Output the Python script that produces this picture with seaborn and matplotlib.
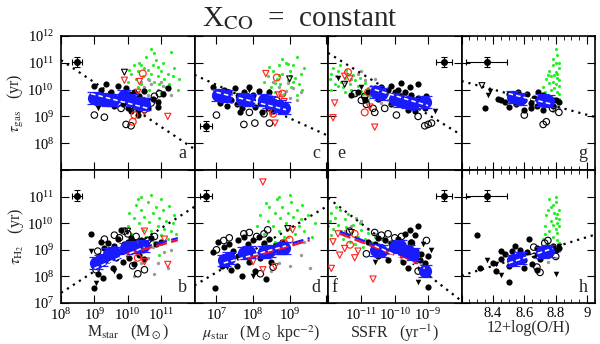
import numpy as np
import pandas as pd
import matplotlib
matplotlib.use("Agg")
import matplotlib.pyplot as plt
import seaborn as sns
from matplotlib.ticker import FixedLocator, MultipleLocator, NullFormatter, LogLocator, FixedFormatter

sns.set_style("ticks")
plt.rcParams["font.family"] = ["Liberation Serif", "DejaVu Serif"]
plt.rcParams["mathtext.fontset"] = "stix"

# ---------------- data (log10 values, except O/H) ----------------
# Panel a: log Mstar vs log tau_gas
A_GREEN = [(10.0,10.3),(10.1,10.6),(10.2,10.9),(10.25,10.4),(10.3,10.7),(10.35,11.0),(10.4,10.2),(10.45,10.5),
           (10.5,10.8),(10.55,11.2),(10.6,10.4),(10.65,10.0),(10.7,10.6),(10.75,10.9),(10.8,10.3),(10.85,11.1),
           (10.9,10.5),(10.95,10.2),(11.0,10.7),(11.05,11.0),(11.1,10.4),(11.15,10.1),(11.2,10.6),(11.3,11.4),
           (11.25,10.2),(11.4,10.8),(11.5,10.0),(10.3,10.1),(10.6,10.75),(10.8,11.35),(10.15,9.95),(11.0,9.9),
           (10.4,10.9),(10.9,10.85),(11.35,10.5),(10.7,11.5),(10.05,10.75),(11.55,10.4)]
A_GRAY = [(10.3,9.9),(10.5,10.1),(10.6,9.8),(10.7,10.2),(10.8,9.7),(10.9,10.0),(11.0,10.3),(11.1,9.9),
          (11.2,10.1),(10.4,10.3),(10.95,9.6),(11.3,9.8),(10.65,10.35),(11.05,10.15),(10.2,9.7)]
A_BLACK = [(9.0,10.15),(9.2,10.0),(9.35,10.2),(9.5,9.9),(9.7,10.15),(9.8,9.8),(9.95,10.05),(10.05,9.85),
           (10.2,9.9),(10.35,9.75),(10.5,9.95),(10.75,9.65),(10.9,9.55),(11.05,9.85),(11.2,10.05),(9.1,9.45),
           (9.3,9.5),(9.6,9.4),(9.85,9.45),(10.0,9.3),(10.15,9.5),(10.3,9.25),(10.45,9.4),(10.6,9.3),
           (10.9,9.35),(8.95,9.7),(9.4,9.75),(10.1,9.2),(10.3,9.05),(10.45,9.6)]
A_OPEN = [(9.0,9.05),(9.3,8.97),(9.95,8.7),(10.1,8.65),(10.8,9.75),(10.95,9.85),(10.7,9.5),(10.5,9.25),(9.8,9.3)]
A_TRI = [(9.1,9.3),(9.5,9.55),(10.05,9.65),(10.6,9.6)]
A_TRI_OPEN = [(9.9,10.65)]
A_RED_TRI = [(9.9,10.35),(10.3,9.9),(11.2,9.0),(10.2,9.5),(10.5,9.15),(10.35,10.3)]
A_RED_CIRC = [(10.45,10.6),(10.2,9.05),(10.15,8.8)]
A_BLUE = [(9.0,9.7),(9.2,9.65),(9.4,9.6),(9.55,9.62),(9.9,9.75),(10.1,9.6),(10.3,9.5),(10.5,9.45)]
A_WHITE = [(8.9,9.85),(10.6,9.3)]
A_FIT = [(8.0,11.1),(12.0,7.78)]
A_ERR = (8.48, 11.03, 0.15, 0.2)

# Panel b: log Mstar vs log tau_H2
B_GREEN = [(10.0,9.9),(10.05,10.4),(10.1,9.6),(10.2,10.2),(10.25,10.7),(10.3,9.4),(10.35,10.0),(10.4,10.5),
           (10.45,9.75),(10.5,10.25),(10.55,9.5),(10.6,10.8),(10.65,10.05),(10.7,9.7),(10.75,10.4),(10.8,9.3),
           (10.85,10.6),(10.9,9.9),(10.95,10.2),(11.0,9.55),(11.05,10.5),(11.1,9.8),(11.15,10.1),(11.2,9.4),
           (11.25,10.65),(11.3,9.7),(11.35,10.0),(11.45,9.6),(10.4,11.0),(10.7,11.05),(11.0,10.9),(10.15,9.2),
           (10.6,9.05),(10.95,8.8),(11.4,10.3),(10.3,10.9)]
B_GRAY = [(10.1,9.2),(10.3,8.9),(10.5,9.3),(10.6,8.7),(10.75,9.1),(10.9,8.5),(11.0,9.3),(11.1,8.9),
          (11.2,8.3),(10.8,8.1),(10.4,8.5),(11.3,9.0),(10.65,9.5),(10.2,8.0)]
B_BLACK = [(8.9,9.6),(9.2,9.3),(9.3,9.05),(9.4,9.25),(9.5,8.95),(9.6,9.15),(9.7,9.4),(9.8,9.75),(9.9,9.2),
           (10.0,9.3),(10.1,9.45),(10.25,9.15),(10.4,9.35),(10.55,9.25),(10.7,9.45),(10.85,9.2),(11.0,9.3),
           (9.0,8.4),(9.1,8.1),(9.25,7.95),(9.4,8.6),(9.55,8.3),(9.75,8.0),(9.0,7.55),(9.15,8.75),(9.65,8.7),
           (9.85,8.55),(10.05,8.7),(10.2,8.45),(10.35,8.8),(10.5,8.65)]
B_OPEN = [(9.05,8.25),(9.3,9.4),(9.6,9.55),(9.75,9.45),(9.9,9.7),(10.0,9.6),(10.15,8.4),(10.3,8.1),
          (10.5,8.25),(10.6,9.35),(10.8,9.5),(10.25,9.5),(9.1,8.95)]
B_TRI = [(8.9,8.95),(9.05,7.75),(9.6,8.2),(10.2,9.3),(9.95,8.85)]
B_TRI_OPEN = [(10.0,9.7)]
B_RED_TRI = [(10.5,9.7),(11.1,9.4),(11.2,8.45),(10.3,8.95),(10.5,8.55)]
B_RED_CIRC = [(10.45,9.0),(10.3,8.7)]
B_BLUE = [(9.05,8.5),(9.2,8.6),(9.45,8.85),(9.6,8.9),(9.95,9.05),(10.15,9.1),(10.45,9.15)]
B_WHITE = [(9.0,8.3),(10.5,9.1)]
B_FIT = [(8.0,7.38),(12.0,10.62)]
B_BLUE_DASH = [(9.95,8.92),(11.5,9.44)]
B_RED_DASH = [(9.95,8.84),(11.5,9.36)]
B_ERR = (8.48, 11.03, 0.15, 0.2)

# Panel c: log mu_star vs log tau_gas
C_GREEN = [(8.2,10.0),(8.3,10.3),(8.35,9.8),(8.4,10.5),(8.5,10.1),(8.55,10.7),(8.6,9.9),(8.65,10.4),
           (8.7,10.9),(8.75,10.2),(8.8,10.6),(8.85,9.85),(8.9,11.0),(8.95,10.35),(9.0,10.7),(9.05,10.1),
           (9.1,10.9),(9.15,10.45),(9.2,11.2),(9.25,10.2),(9.3,10.6),(9.35,10.0),(8.45,10.85),(8.7,10.55),
           (8.95,10.95),(9.1,10.3),(8.6,10.25),(9.4,10.8),(8.8,11.15),(8.5,9.75),(9.2,9.8),(9.0,10.5)]
C_GRAY = [(8.3,9.7),(8.45,10.0),(8.6,9.6),(8.7,10.1),(8.8,9.8),(8.9,9.95),(9.0,9.7),(9.1,10.05),
          (8.55,10.3),(9.2,9.6),(8.4,9.45),(8.95,10.25),(9.3,9.9),(8.75,9.5)]
C_BLACK = [(6.9,10.1),(7.05,9.85),(7.2,10.0),(7.35,9.9),(7.5,10.05),(7.6,9.75),(7.75,9.9),(7.9,10.1),
           (8.0,9.8),(8.15,9.95),(8.3,9.7),(8.45,9.9),(8.6,9.55),(7.1,9.5),(7.3,9.4),(7.55,9.45),(7.7,9.3),
           (7.85,9.5),(8.05,9.35),(8.2,9.5),(8.4,9.3),(8.55,9.2),(7.4,9.6),(7.95,9.6),(6.95,9.75),(8.7,9.25),
           (8.25,9.15),(7.65,9.15)]
C_OPEN = [(7.0,9.05),(7.75,8.7),(8.05,8.75),(8.45,8.75),(7.9,9.15),(8.65,9.6),(8.75,9.4),(8.3,9.1)]
C_TRI = [(7.9,10.0),(8.2,9.55)]
C_TRI_OPEN = [(9.0,10.4)]
C_RED_TRI = [(8.35,10.6),(8.7,9.8),(8.5,9.15),(8.6,8.75),(8.85,9.55)]
C_RED_CIRC = [(8.65,10.45),(8.8,9.85),(8.55,9.1)]
C_BLUE = [(7.05,9.8),(7.25,9.75),(7.7,9.65),(7.9,9.6),(8.3,9.62),(8.45,9.55),(8.7,9.4),(8.85,9.3)]
C_WHITE = [(7.0,9.9),(8.9,9.25)]
C_FIT = [(6.4,10.55),(10.05,8.28)]
C_ERR = (6.72, 8.64, 0.16, 0.2)

# Panel d: log mu_star vs log tau_H2
D_GREEN = [(8.1,9.9),(8.2,10.3),(8.3,9.6),(8.4,10.1),(8.45,10.6),(8.5,9.4),(8.55,9.9),(8.6,10.4),
           (8.65,10.9),(8.7,9.7),(8.75,10.2),(8.8,10.6),(8.85,9.5),(8.9,10.0),(8.95,10.4),(9.0,9.8),
           (9.05,10.8),(9.1,10.25),(9.15,9.6),(9.2,10.5),(9.25,9.9),(9.3,10.15),(9.4,9.7),(9.5,10.3),
           (9.6,9.5),(9.7,10.0),(8.7,11.0),(9.0,11.05),(8.35,10.75),(8.9,9.2),(9.35,10.7),(8.6,9.3)]
D_GRAY = [(8.2,9.1),(8.4,8.8),(8.6,9.2),(8.7,8.5),(8.85,9.0),(9.0,8.4),(9.1,9.2),(9.3,8.8),
          (8.5,8.2),(9.4,9.3),(8.95,9.5),(9.55,8.3)]
D_BLACK = [(6.9,8.9),(7.05,9.3),(7.2,9.1),(7.35,9.2),(7.45,8.95),(7.6,9.35),(7.75,9.5),(7.85,9.2),
           (8.0,9.35),(8.15,9.5),(8.3,9.25),(8.45,9.4),(8.6,9.15),(8.8,9.3),(6.95,7.55),(7.25,8.6),
           (7.4,8.25),(7.55,8.4),(7.7,8.0),(7.9,8.55),(8.05,8.2),(8.2,8.7),(8.35,7.9),(8.5,8.55),
           (7.6,8.75),(7.15,8.4),(8.0,8.8),(7.8,9.0)]
D_OPEN = [(7.2,9.35),(7.35,9.45),(7.75,9.6),(7.9,9.65),(8.1,9.5),(8.3,9.6),(8.55,8.35),(8.2,8.1),
          (7.0,9.0),(8.4,9.75)]
D_TRI = [(8.0,8.03),(7.3,8.35)]
D_TRI_OPEN = [(8.95,9.8)]
D_RED_TRI = [(8.27,11.55),(8.0,8.55),(8.27,8.25),(9.08,9.75),(8.6,8.37)]
D_RED_CIRC = [(9.0,9.38),(8.85,9.25)]
D_BLUE = [(7.2,8.6),(7.35,8.7),(7.75,8.88),(7.9,8.92),(8.3,8.92),(8.45,8.95),(8.75,9.05),(8.85,9.08)]
D_WHITE = [(7.2,8.5),(8.9,9.15)]
D_FIT = [(6.4,7.66),(10.05,10.66)]
D_BLUE_DASH = [(7.86,8.76),(9.55,9.44)]
D_RED_DASH = [(7.86,8.68),(9.55,9.36)]
D_ERR = (6.72, 11.03, 0.16, 0.2)

# Panel e: log SSFR vs log tau_gas
E_GREEN = [(-11.95,10.4),(-11.9,10.6),(-11.8,10.2),(-11.75,10.5),(-11.7,10.7),(-11.6,10.3),(-11.55,10.1),
           (-11.5,10.45),(-11.4,10.6),(-11.35,10.2),(-11.3,10.0),(-11.2,10.35),(-11.1,10.15),(-11.0,9.95),
           (-10.9,10.25),(-10.8,10.05),(-10.7,9.9),(-10.6,10.1),(-11.85,10.8),(-11.65,10.9),(-11.45,10.75),
           (-11.25,10.55),(-11.05,10.45),(-10.95,9.85),(-10.75,9.75),(-11.9,10.0),(-11.7,10.15),(-11.5,9.9),
           (-11.15,9.8),(-10.5,9.8)]
E_GRAY = [(-11.3,10.4),(-11.1,10.6),(-10.9,10.35),(-10.7,10.15),(-10.5,9.95),(-10.3,9.8),(-10.2,9.6),
          (-10.0,9.75),(-11.5,10.3),(-10.8,9.6),(-10.4,9.5),(-9.8,9.45),(-11.0,10.7),(-10.6,10.4)]
E_BLACK = [(-10.8,9.9),(-10.6,10.05),(-10.4,10.1),(-10.3,9.85),(-10.2,10.0),(-10.1,10.15),(-10.0,9.9),
           (-9.9,10.0),(-9.8,9.75),(-9.7,9.9),(-9.6,9.6),(-9.5,9.8),(-9.4,9.55),(-9.3,9.7),(-9.2,9.45),
           (-9.1,9.3),(-9.0,9.5),(-9.8,10.25),(-9.55,10.1),(-9.3,10.2),(-10.5,9.65),(-10.1,9.45),
           (-9.6,9.25),(-9.4,9.2),(-11.3,9.8),(-11.1,9.9),(-10.9,9.6),(-9.05,9.75)]
E_OPEN = [(-11.2,9.85),(-11.0,9.6),(-10.85,9.45),(-10.65,9.3),(-10.6,9.15),(-9.95,9.05),(-9.1,8.65),
          (-9.0,8.7),(-8.9,8.75),(-9.3,9.0),(-10.3,9.3),(-10.9,9.75)]
E_TRI = [(-11.7,10.45),(-11.0,10.1),(-8.8,9.2)]
E_TRI_OPEN = [(-11.5,10.2),(-10.9,9.6)]
E_RED_TRI = [(-11.5,10.5),(-11.35,10.4),(-11.8,9.5),(-11.85,8.95),(-10.6,8.6),(-10.75,9.35)]
E_RED_CIRC = [(-11.4,10.65),(-10.9,9.15),(-10.8,9.9)]
E_BLUE = [(-10.55,9.9),(-10.4,9.85),(-10.0,9.65),(-9.85,9.58),(-9.6,9.52),(-9.45,9.48),(-9.1,9.54)]
E_WHITE = [(-10.6,10.0),(-9.0,9.4)]
E_FIT = [(-12.0,11.37),(-8.0,8.3)]
E_ERR = (-8.52, 11.03, 0.25, 0.2)

# Panel f: log SSFR vs log tau_H2
F_GREEN = [(-11.95,10.1),(-11.9,10.4),(-11.85,9.8),(-11.8,10.2),(-11.7,9.95),(-11.65,10.5),(-11.6,9.7),
           (-11.5,10.15),(-11.45,9.85),(-11.4,10.35),(-11.3,9.6),(-11.25,9.95),(-11.15,10.2),(-11.1,9.5),
           (-11.0,9.75),(-10.9,9.4),(-10.8,9.65),(-10.7,9.3),(-10.6,9.5),(-10.5,9.2),(-11.75,10.6),
           (-11.55,9.4),(-11.35,9.3),(-11.2,9.2),(-10.95,9.1),(-11.9,9.55),(-12.0,9.9),(-11.05,10.0)]
F_GRAY = [(-11.3,9.9),(-11.0,10.1),(-10.8,9.8),(-10.6,9.6),(-10.4,9.4),(-10.2,9.3),(-10.0,9.0),
          (-9.8,8.6),(-9.6,8.7),(-11.5,9.7),(-10.5,8.8),(-9.9,9.2)]
F_BLACK = [(-10.8,9.3),(-10.6,9.2),(-10.5,9.45),(-10.4,9.1),(-10.3,9.35),(-10.2,8.95),(-10.1,9.25),
           (-10.0,9.0),(-9.9,9.4),(-9.8,9.15),(-9.7,8.85),(-9.6,9.05),(-9.5,9.3),(-9.45,8.7),(-9.35,8.95),
           (-9.25,8.6),(-9.2,8.85),(-9.1,8.5),(-9.0,8.75),(-9.7,9.6),(-9.4,9.55),(-9.3,9.9),(-10.5,8.75),
           (-10.2,8.6),(-9.6,8.3),(-9.1,8.1),(-9.0,7.6),(-9.75,8.55),(-10.6,8.9),(-9.55,9.75)]
F_OPEN = [(-10.6,9.65),(-10.4,9.55),(-10.2,9.6),(-10.0,9.45),(-9.8,9.5),(-9.5,9.25),(-9.3,8.2),
          (-9.2,8.3),(-10.85,8.85),(-11.35,9.7),(-9.05,9.35)]
F_TRI = [(-10.6,8.55),(-9.15,9.2),(-9.3,7.8),(-8.9,9.0)]
F_TRI_OPEN = [(-11.3,9.65)]
F_RED_TRI = [(-11.7,9.6),(-11.85,9.3),(-11.5,9.05),(-11.65,8.8),(-11.9,8.3),(-11.1,8.95),(-10.65,7.9),(-11.2,8.7)]
F_RED_CIRC = [(-11.34,9.19),(-11.2,9.6)]
F_BLUE = [(-10.55,9.0),(-10.4,8.95),(-10.0,9.1),(-9.85,9.15),(-9.6,8.95),(-9.45,8.85),(-9.09,8.2)]
F_WHITE = [(-10.6,9.15),(-9.1,8.3)]
F_FIT = [(-12.0,10.95),(-8.0,7.08)]
F_BLUE_DASH = [(-11.64,9.68),(-9.3,8.55)]
F_RED_DASH = [(-11.64,9.6),(-9.3,8.47)]
F_ERR = (-8.52, 11.03, 0.25, 0.2)

# Panel g: 12+log(O/H) vs log tau_gas
G_GREEN = [(8.72,10.1),(8.74,10.4),(8.75,9.8),(8.76,10.7),(8.77,10.0),(8.78,10.3),(8.78,10.9),(8.79,9.7),
           (8.79,10.55),(8.8,10.2),(8.8,11.0),(8.81,9.9),(8.81,10.45),(8.82,10.15),(8.82,10.8),(8.82,9.65),
           (8.81,11.3),(8.8,10.65),(8.79,10.05),(8.77,10.5),(8.76,10.25),(8.8,11.5),(8.82,10.35),(8.81,10.6),
           (8.75,10.55),(8.73,9.9),(8.82,9.85),(8.8,9.6),(8.78,11.15),(8.82,11.0)]
G_GRAY = [(8.76,9.6),(8.8,9.4),(8.82,9.5),(8.78,9.2),(8.82,9.3),(8.7,9.5)]
G_BLACK = [(8.35,9.3),(8.48,9.55),(8.5,9.85),(8.52,9.7),(8.55,9.45),(8.58,9.75),(8.6,9.6),(8.62,9.85),
           (8.64,9.5),(8.66,9.7),(8.68,9.4),(8.7,9.65),(8.72,9.8),(8.74,9.5),(8.76,9.7),(8.78,9.4),
           (8.8,9.6),(8.82,9.55),(8.45,9.6),(8.56,9.9),(8.64,9.3),(8.72,9.25),(8.6,9.25),(8.43,9.65),
           (8.69,9.9),(8.5,9.35)]
G_OPEN = [(8.6,9.05),(8.72,8.7),(8.74,8.8),(8.82,9.15),(8.78,9.3)]
G_TRI = [(8.38,9.95),(8.37,9.8)]
G_TRI_OPEN = [(8.33,10.15)]
G_BLUE = [(8.53,9.72),(8.57,9.64),(8.71,9.62),(8.75,9.58)]
G_WHITE = [(8.5,9.85),(8.78,9.45)]
G_FIT = [(8.2,10.32),(9.05,8.98)]
G_ERR = (8.36, 11.03, 0.13, 0.2)

# Panel h: 12+log(O/H) vs log tau_H2
H_GREEN = [(8.72,9.4),(8.73,9.9),(8.74,10.3),(8.75,9.2),(8.76,9.7),(8.77,10.1),(8.77,10.6),(8.78,9.5),
           (8.78,9.95),(8.79,10.4),(8.79,9.1),(8.8,9.8),(8.8,10.2),(8.8,10.8),(8.81,9.35),(8.81,9.65),
           (8.81,10.0),(8.82,10.5),(8.82,9.9),(8.82,9.25),(8.75,10.5),(8.76,10.9),(8.8,11.0),(8.81,10.35),
           (8.73,9.6),(8.79,9.0),(8.82,10.15),(8.78,10.7)]
H_GRAY = [(8.77,8.9),(8.8,8.7),(8.82,8.95),(8.75,8.55),(8.7,8.8)]
H_BLACK = [(8.3,9.55),(8.32,8.3),(8.4,8.5),(8.42,8.2),(8.45,8.65),(8.48,8.85),(8.5,8.4),(8.5,7.8),
           (8.52,8.95),(8.55,8.7),(8.57,9.0),(8.6,8.6),(8.62,8.9),(8.63,9.4),(8.65,8.45),(8.66,8.8),
           (8.68,9.05),(8.7,8.65),(8.72,8.95),(8.74,9.1),(8.76,8.8),(8.78,9.15),(8.8,9.0),(8.82,9.05),
           (8.6,8.3),(8.45,8.95),(8.68,8.25),(8.54,9.15)]
H_OPEN = [(8.68,8.35),(8.7,8.15),(8.73,9.25),(8.75,9.35),(8.8,8.75),(8.66,9.1)]
H_TRI = [(8.36,8.6),(8.42,8.45),(8.45,8.05),(8.8,8.1),(8.82,9.15)]
H_TRI_OPEN = []
H_BLUE = [(8.53,8.6),(8.57,8.68),(8.71,8.9),(8.75,8.96)]
H_WHITE = [(8.5,8.5),(8.78,9.05)]
H_FIT = [(8.2,8.03),(9.05,9.57)]
H_ERR = (8.36, 11.03, 0.13, 0.2)

LETTERS = ["a", "c", "e", "g", "b", "d", "f", "h"]
XLABELS = [r"M$_{\rm star}$   (M$_\odot$)", r"$\mu_{\rm star}$   (M$_\odot$ kpc$^{-2}$)",
           r"SSFR   (yr$^{-1}$)", "12+log(O/H)"]
YLABELS = [r"$\tau_{\rm gas}$   (yr)", r"$\tau_{\rm H_2}$   (yr)"]
TITLE = r"X$_{\rm CO}$  =  constant"

# ---------------- figure ----------------
fig = plt.figure(figsize=(6.0, 3.44), dpi=100)
L, W = 61 / 600, 133.5 / 600
tops = [(1 - 170 / 344, 134 / 344), (1 - 303 / 344, 133 / 344)]

panels = [
    dict(g=A_GREEN, gr=A_GRAY, k=A_BLACK, o=A_OPEN, t=A_TRI, to=A_TRI_OPEN, rt=A_RED_TRI, rc=A_RED_CIRC,
         b=A_BLUE, w=A_WHITE, fit=A_FIT, err=A_ERR, bd=None, rd=None),
    dict(g=C_GREEN, gr=C_GRAY, k=C_BLACK, o=C_OPEN, t=C_TRI, to=C_TRI_OPEN, rt=C_RED_TRI, rc=C_RED_CIRC,
         b=C_BLUE, w=C_WHITE, fit=C_FIT, err=C_ERR, bd=None, rd=None),
    dict(g=E_GREEN, gr=E_GRAY, k=E_BLACK, o=E_OPEN, t=E_TRI, to=E_TRI_OPEN, rt=E_RED_TRI, rc=E_RED_CIRC,
         b=E_BLUE, w=E_WHITE, fit=E_FIT, err=E_ERR, bd=None, rd=None),
    dict(g=G_GREEN, gr=G_GRAY, k=G_BLACK, o=G_OPEN, t=G_TRI, to=G_TRI_OPEN, rt=[], rc=[],
         b=G_BLUE, w=G_WHITE, fit=G_FIT, err=G_ERR, bd=None, rd=None),
    dict(g=B_GREEN, gr=B_GRAY, k=B_BLACK, o=B_OPEN, t=B_TRI, to=B_TRI_OPEN, rt=B_RED_TRI, rc=B_RED_CIRC,
         b=B_BLUE, w=B_WHITE, fit=B_FIT, err=B_ERR, bd=B_BLUE_DASH, rd=B_RED_DASH),
    dict(g=D_GREEN, gr=D_GRAY, k=D_BLACK, o=D_OPEN, t=D_TRI, to=D_TRI_OPEN, rt=D_RED_TRI, rc=D_RED_CIRC,
         b=D_BLUE, w=D_WHITE, fit=D_FIT, err=D_ERR, bd=D_BLUE_DASH, rd=D_RED_DASH),
    dict(g=F_GREEN, gr=F_GRAY, k=F_BLACK, o=F_OPEN, t=F_TRI, to=F_TRI_OPEN, rt=F_RED_TRI, rc=F_RED_CIRC,
         b=F_BLUE, w=F_WHITE, fit=F_FIT, err=F_ERR, bd=F_BLUE_DASH, rd=F_RED_DASH),
    dict(g=H_GREEN, gr=H_GRAY, k=H_BLACK, o=H_OPEN, t=H_TRI, to=H_TRI_OPEN, rt=[], rc=[],
         b=H_BLUE, w=H_WHITE, fit=H_FIT, err=H_ERR, bd=None, rd=None),
]


def frame(pairs, logx):
    if not pairs:
        return None
    arr = np.array(pairs, dtype=float)
    x = 10 ** arr[:, 0] if logx else arr[:, 0]
    return pd.DataFrame({"x": x, "y": 10 ** arr[:, 1]})


def scat(ax, pairs, logx, **kw):
    df = frame(pairs, logx)
    if df is None:
        return
    sns.scatterplot(data=df, x="x", y="y", ax=ax, legend=False, **kw)


def line(ax, pairs, logx, **kw):
    df = frame(pairs, logx)
    sns.lineplot(data=df, x="x", y="y", ax=ax, legend=False, sort=False, estimator=None, **kw)


for i, p in enumerate(panels):
    row, col = divmod(i, 4)
    bottom, height = tops[row]
    ax = fig.add_axes([L + col * W, bottom, W, height])
    logx = col < 3

    scat(ax, p["g"], logx, color="#22ee22", s=5, linewidth=0, zorder=2)
    scat(ax, p["gr"], logx, color="#9a9a9a", s=6, linewidth=0, zorder=2)
    scat(ax, p["k"], logx, color="black", s=20, linewidth=0, zorder=3)
    scat(ax, p["o"], logx, marker="o", facecolor="none", edgecolor="black", s=22, linewidth=0.8, zorder=3)
    scat(ax, p["t"], logx, marker="v", color="black", s=16, linewidth=0, zorder=3)
    scat(ax, p["to"], logx, marker="v", facecolor="none", edgecolor="black", s=18, linewidth=0.8, zorder=3)
    scat(ax, p["rt"], logx, marker="v", facecolor="none", edgecolor="#ff2020", s=20, linewidth=0.8, zorder=4)
    scat(ax, p["rc"], logx, marker="o", facecolor="none", edgecolor="#ff3010", s=24, linewidth=0.9, zorder=4)

    # fit line
    line(ax, p["fit"], logx, color="black", linestyle=(0, (1, 2.2)), linewidth=1.6, zorder=5)

    # blue binned medians with error bars
    bdf = frame(p["b"], logx)
    ax.errorbar(bdf["x"], bdf["y"], yerr=[bdf["y"] * (1 - 10 ** -0.22), bdf["y"] * (10 ** 0.22 - 1)],
                fmt="none", ecolor="#2222ff", elinewidth=0.9, capsize=5, capthick=0.9, zorder=6)
    sns.scatterplot(data=bdf, x="x", y="y", ax=ax, color="#1a1aff", s=90, linewidth=0, zorder=7, legend=False)
    if p["bd"] is not None:
        line(ax, p["bd"], logx, color="#1a1aff", linestyle=(0, (5, 2)), linewidth=1.6, zorder=8)
        line(ax, p["rd"], logx, color="#ee1133", linestyle=(0, (5, 2)), linewidth=1.6, zorder=8)
    line(ax, p["w"], logx, color="white", linestyle=(0, (3, 2)), linewidth=1.1, zorder=9)

    # representative error bar
    ex, ey, exe, eye = p["err"]
    xv = 10 ** ex if logx else ex
    xe = [[xv * (1 - 10 ** -exe)], [xv * (10 ** exe - 1)]] if logx else exe
    yv = 10 ** ey
    ye = [[yv * (1 - 10 ** -eye)], [yv * (10 ** eye - 1)]]
    ax.errorbar([xv], [yv], xerr=xe, yerr=ye, fmt="o", color="black", ms=4, elinewidth=0.8,
                capsize=2, capthick=0.8, zorder=6)

    # axes limits and ticks
    ax.set_yscale("log")
    ax.set_ylim(1e7, 1e12)
    ax.yaxis.set_major_locator(FixedLocator([1e7, 1e8, 1e9, 1e10, 1e11, 1e12]))
    ax.yaxis.set_minor_locator(LogLocator(base=10, subs=np.arange(2, 10)))
    ax.yaxis.set_minor_formatter(NullFormatter())
    if col == 0:
        labs = ["", "$\\mathdefault{10^{8}}$", "$\\mathdefault{10^{9}}$", "$\\mathdefault{10^{10}}$",
                "$\\mathdefault{10^{11}}$", "$\\mathdefault{10^{12}}$"] if row == 0 else \
               ["$\\mathdefault{10^{7}}$", "$\\mathdefault{10^{8}}$", "$\\mathdefault{10^{9}}$",
                "$\\mathdefault{10^{10}}$", "$\\mathdefault{10^{11}}$", ""]
        ax.yaxis.set_major_formatter(FixedFormatter(labs))
        ax.set_ylabel(YLABELS[row], fontsize=11.5)
        ax.yaxis.set_label_coords(-0.265, 0.5)
    else:
        ax.yaxis.set_major_formatter(NullFormatter())
        ax.set_ylabel("")

    if col == 0:
        ax.set_xscale("log")
        ax.set_xlim(1e8, 1e12)
        ticks = [1e8, 1e9, 1e10, 1e11, 1e12]
        labs = ["$\\mathdefault{10^{8}}$", "$\\mathdefault{10^{9}}$", "$\\mathdefault{10^{10}}$",
                "$\\mathdefault{10^{11}}$", ""]
    elif col == 1:
        ax.set_xscale("log")
        ax.set_xlim(10 ** 6.4, 10 ** 10.05)
        ticks = [1e7, 1e8, 1e9, 1e10]
        labs = ["$\\mathdefault{10^{7}}$", "$\\mathdefault{10^{8}}$", "$\\mathdefault{10^{9}}$", ""]
    elif col == 2:
        ax.set_xscale("log")
        ax.set_xlim(1e-12, 1e-8)
        ticks = [1e-12, 1e-11, 1e-10, 1e-9, 1e-8]
        labs = ["", "$\\mathdefault{10^{-11}}$", "$\\mathdefault{10^{-10}}$", "$\\mathdefault{10^{-9}}$", ""]
    else:
        ax.set_xlim(8.2, 9.05)
        ticks = [8.2, 8.4, 8.6, 8.8, 9.0]
        labs = ["", "8.4", "8.6", "8.8", "9"]
    ax.xaxis.set_major_locator(FixedLocator(ticks))
    if col < 3:
        ax.xaxis.set_minor_locator(LogLocator(base=10, subs=np.arange(2, 10)))
    else:
        ax.xaxis.set_minor_locator(MultipleLocator(0.05))
    ax.xaxis.set_minor_formatter(NullFormatter())
    if row == 1:
        ax.xaxis.set_major_formatter(FixedFormatter(labs))
        ax.set_xlabel(XLABELS[col], fontsize=11.5, labelpad=0)
    else:
        ax.xaxis.set_major_formatter(NullFormatter())
        ax.set_xlabel("")

    ax.tick_params(which="both", direction="in", top=True, right=True, colors="black",
                   labelsize=10.5, pad=3)
    ax.tick_params(axis="y", which="major", pad=5)
    ax.tick_params(which="major", length=6, width=0.8)
    ax.tick_params(which="minor", length=3, width=0.6)
    for s in ax.spines.values():
        s.set_linewidth(1.2)
        s.set_color("black")

    letter = LETTERS[i]
    lx = 0.05 if col == 2 else 0.91
    if col == 2 and row == 0:
        lx = 0.1
    ax.text(lx, 0.12, letter, transform=ax.transAxes, fontsize=13, ha="center", va="center", zorder=10)

fig.text(0.5, 0.946, TITLE, fontsize=21, ha="center", va="center")
fig.savefig("out.png", dpi=100, facecolor="white")
